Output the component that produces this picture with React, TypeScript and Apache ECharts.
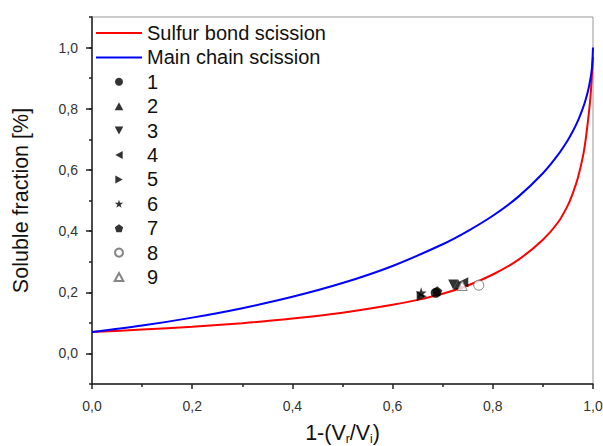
import React, { useEffect, useRef } from 'react';
import * as echarts from 'echarts';

// Sulfur bond scission curve
const sulfurX = [0, 0.1, 0.2, 0.3, 0.4, 0.5, 0.6, 0.65, 0.7, 0.75, 0.8, 0.85, 0.9, 0.93, 0.95, 0.96, 0.97, 0.98, 0.985, 0.99, 0.995, 1.0];
const sulfurY = [0.07, 0.078, 0.087, 0.099, 0.114, 0.133, 0.159, 0.175, 0.195, 0.222, 0.258, 0.305, 0.372, 0.428, 0.485, 0.525, 0.575, 0.645, 0.695, 0.76, 0.84, 0.97];

// Main chain scission curve
const mainX = [0, 0.1, 0.2, 0.3, 0.4, 0.5, 0.6, 0.7, 0.75, 0.8, 0.85, 0.9, 0.93, 0.95, 0.96, 0.97, 0.98, 0.985, 0.99, 0.995, 0.998, 1.0];
const mainY = [0.07, 0.091, 0.117, 0.148, 0.185, 0.23, 0.286, 0.357, 0.40, 0.45, 0.511, 0.589, 0.649, 0.698, 0.727, 0.761, 0.803, 0.828, 0.858, 0.899, 0.935, 1.0];

// Measured samples
const pointNames = ['1', '2', '3', '4', '5', '6', '7', '8', '9'];
const pointX = [0.686, 0.731, 0.721, 0.741, 0.658, 0.657, 0.689, 0.772, 0.739];
const pointY = [0.198, 0.225, 0.225, 0.233, 0.187, 0.198, 0.203, 0.223, 0.222];

const lineNames = ['Sulfur bond scission', 'Main chain scission'];

const FONT = '"Liberation Sans", Arial, Helvetica, sans-serif';

const TRI_UP = 'path://M0,-1 L1,0.85 L-1,0.85 Z';
const SYMBOLS = [
  'circle',
  TRI_UP,
  'path://M-1,-0.85 L1,-0.85 L0,1 Z',
  'path://M0.85,-1 L0.85,1 L-1,0 Z',
  'path://M-0.85,-1 L-0.85,1 L1,0 Z',
  'path://M0,-1 L0.2245,-0.309 L0.951,-0.309 L0.363,0.118 L0.588,0.809 L0,0.382 L-0.588,0.809 L-0.363,0.118 L-0.951,-0.309 L-0.2245,-0.309 Z',
  'path://M0,-1 L0.951,-0.309 L0.588,0.809 L-0.588,0.809 L-0.951,-0.309 Z',
  'circle',
  TRI_UP,
];
const LINE_ICON = 'path://M0,0 L46,0 L46,2 L0,2 Z';

const fmt = (v: number) => v.toFixed(1).replace('.', ',');

export default function App() {
  const ref = useRef<HTMLDivElement>(null);

  useEffect(() => {
    document.body.style.margin = '0';
    if (!ref.current) return;
    const chart = echarts.init(ref.current, null, { renderer: 'svg' });

    const axisColor = '#222';
    const scatterSeries = pointNames.map((n, i) => {
      const empty = i >= 7;
      return {
        type: 'scatter',
        name: n,
        xAxisIndex: 0,
        yAxisIndex: 0,
        data: [[pointX[i], pointY[i]]],
        symbol: SYMBOLS[i],
        symbolSize: i === 5 ? 11 : 10,
        z: 4,
        itemStyle: empty
          ? { color: '#fff', borderColor: '#666', borderWidth: 1 }
          : { color: '#000' },
      };
    });

    const option: any = {
      animation: false,
      backgroundColor: '#fff',
      textStyle: { fontFamily: FONT },
      grid: [
        { left: 92, right: 10, top: 17, bottom: 62, show: true, borderColor: '#999', borderWidth: 1, outerBoundsMode: 'none' },
        { left: 92, right: 10, top: 17 + 367 / 12, bottom: 62 + 367 / 12, outerBoundsMode: 'none' },
      ],
      xAxis: [
        {
          type: 'value',
          gridIndex: 0,
          min: 0,
          max: 1,
          interval: 0.2,
          name: '1-(V{s|r}/V{s|i})',
          nameLocation: 'middle',
          nameGap: 36,
          nameTextStyle: {
            fontSize: 21.5,
            color: '#111',
            fontFamily: FONT,
            rich: { s: { fontSize: 12, color: '#111', fontFamily: FONT, padding: [13, 0, 0, 0] } },
          },
          axisLine: { show: true, onZero: false, lineStyle: { color: axisColor, width: 1.5 } },
          axisTick: { show: true, inside: false, length: 5, lineStyle: { color: axisColor, width: 1.5 } },
          minorTick: { show: true, splitNumber: 2, length: 3, lineStyle: { color: axisColor, width: 1.5 } },
          axisLabel: { formatter: fmt, fontSize: 14, color: '#333', margin: 15, fontFamily: FONT },
          splitLine: { show: false },
        },
        { type: 'value', gridIndex: 1, min: 0, max: 1, show: false },
      ],
      yAxis: [
        {
          type: 'value',
          gridIndex: 0,
          min: -0.1,
          max: 1.1,
          interval: 0.1,
          name: 'Soluble fraction [%]',
          nameLocation: 'middle',
          nameGap: 60,
          nameTextStyle: { fontSize: 21.5, color: '#111', fontFamily: FONT },
          axisLine: { show: true, onZero: false, lineStyle: { color: axisColor, width: 1.5 } },
          axisTick: { show: true, inside: false, length: 3, lineStyle: { color: axisColor, width: 1.5 } },
          axisLabel: { show: false },
          splitLine: { show: false },
        },
        {
          type: 'value',
          gridIndex: 1,
          min: 0,
          max: 1,
          interval: 0.2,
          axisLine: { show: false },
          axisTick: { show: true, inside: false, length: 6, lineStyle: { color: axisColor, width: 1.5 } },
          axisLabel: { formatter: fmt, fontSize: 14, color: '#333', margin: 14, fontFamily: FONT },
          splitLine: { show: false },
        },
      ],
      legend: {
        orient: 'vertical',
        left: 96,
        top: 23,
        padding: 0,
        itemWidth: 46,
        itemHeight: 8,
        itemGap: 4.4,
        textStyle: { fontSize: 20, color: '#111', fontFamily: FONT },
        data: [
          { name: lineNames[0], icon: LINE_ICON },
          { name: lineNames[1], icon: LINE_ICON },
          ...pointNames,
        ],
      },
      series: [
        {
          type: 'line',
          name: lineNames[0],
          xAxisIndex: 0,
          yAxisIndex: 0,
          data: sulfurX.map((x, i) => [x, sulfurY[i]]),
          showSymbol: false,
          symbol: 'none',
          smooth: 0.3,
          z: 2,
          lineStyle: { color: '#ff0000', width: 2 },
          itemStyle: { color: '#ff0000' },
        },
        {
          type: 'line',
          name: lineNames[1],
          xAxisIndex: 0,
          yAxisIndex: 0,
          data: mainX.map((x, i) => [x, mainY[i]]),
          showSymbol: false,
          symbol: 'none',
          smooth: 0.3,
          z: 3,
          lineStyle: { color: '#0000ff', width: 2 },
          itemStyle: { color: '#0000ff' },
        },
        ...scatterSeries,
      ],
    };

    chart.setOption(option);
    return () => chart.dispose();
  }, []);

  return (
    <div
      ref={ref}
      style={{ position: 'fixed', left: 0, top: 0, width: 603, height: 446, background: '#fff' }}
    />
  );
}
